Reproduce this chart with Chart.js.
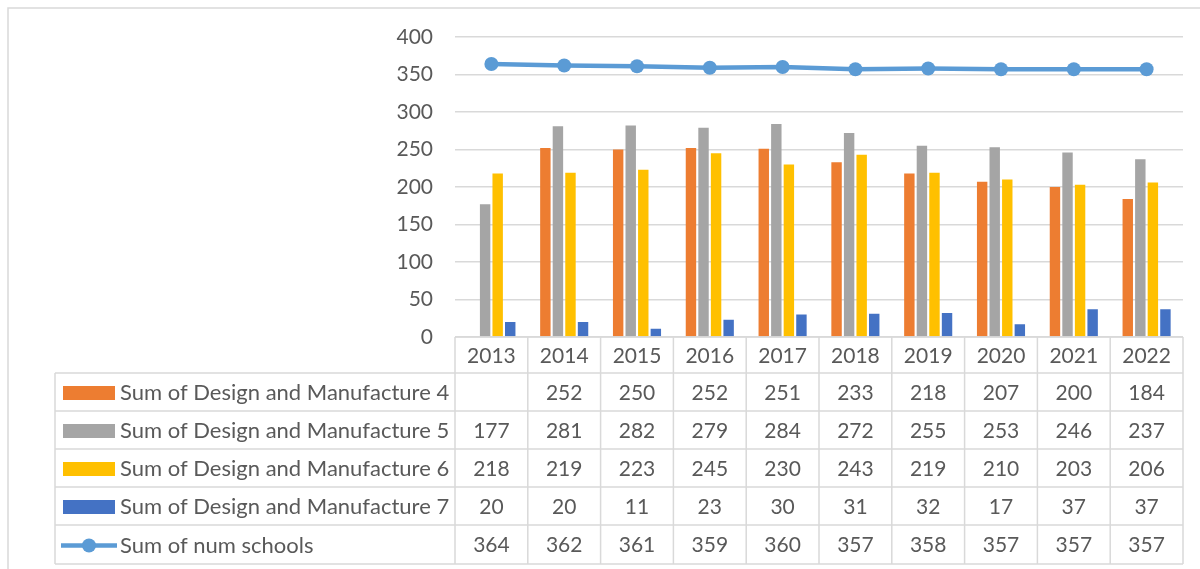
<!DOCTYPE html>
<html>
<head>
<meta charset="utf-8">
<script src="https://cdn.jsdelivr.net/npm/chart.js@4/dist/chart.umd.min.js"></script>
<style>
  html, body { margin: 0; padding: 0; background: #fff; }
  #wrap { width: 1200px; height: 569px; position: relative; }
</style>
</head>
<body>
<div id="wrap"><canvas id="chart" width="1200" height="569"></canvas></div>
<script>
// data
var years = ['2013', '2014', '2015', '2016', '2017', '2018', '2019', '2020', '2021', '2022']
var dm4 = [null, 252, 250, 252, 251, 233, 218, 207, 200, 184]
var dm5 = [177, 281, 282, 279, 284, 272, 255, 253, 246, 237]
var dm6 = [218, 219, 223, 245, 230, 243, 219, 210, 203, 206]
var dm7 = [20, 20, 11, 23, 30, 31, 32, 17, 37, 37]
var numSchools = [364, 362, 361, 359, 360, 357, 358, 357, 357, 357]
var yTicks = [0, 50, 100, 150, 200, 250, 300, 350, 400]

var textColor = '#595959'
var lineColor = '#d9d9d9'

Chart.defaults.font.family = 'Lato'

// draws the Excel style data table under the plot and the outer frame
var dataTable = {
  id: 'dataTable',
  afterDraw: function (chart) {
    var ctx = chart.ctx
    var area = chart.chartArea
    var xs = chart.scales.x
    var colW = (area.right - area.left) / years.length
    var rowTops = [337, 373, 411, 449, 487, 525, 564]
    var labelLeft = 55

    ctx.save()
    ctx.strokeStyle = lineColor
    ctx.lineWidth = 1.5

    // outer frame of the chart object
    ctx.beginPath()
    ctx.moveTo(8, 569)
    ctx.lineTo(8, 8)
    ctx.lineTo(1200, 8)
    ctx.stroke()

    // horizontal lines
    ctx.beginPath()
    ctx.moveTo(area.left, rowTops[0])
    ctx.lineTo(area.right, rowTops[0])
    for (var r = 1; r < rowTops.length; r++) {
      ctx.moveTo(labelLeft, rowTops[r])
      ctx.lineTo(area.right, rowTops[r])
    }
    // vertical lines
    for (var c = 0; c <= years.length; c++) {
      var x = area.left + c * colW
      ctx.moveTo(x, rowTops[0])
      ctx.lineTo(x, rowTops[6])
    }
    ctx.moveTo(labelLeft, rowTops[1])
    ctx.lineTo(labelLeft, rowTops[6])
    ctx.stroke()

    ctx.fillStyle = textColor
    ctx.font = '21px Lato'
    ctx.textAlign = 'center'
    ctx.textBaseline = 'middle'
    years.forEach(function (y, i) {
      ctx.fillText(y, xs.getPixelForValue(i), (rowTops[0] + rowTops[1]) / 2 + 1)
    })

    chart.data.datasets.forEach(function (ds, d) {
      var cy = (rowTops[d + 1] + rowTops[d + 2]) / 2 + 1
      ctx.font = '21px Lato'
      ds.data.forEach(function (v, i) {
        if (v !== null) ctx.fillText(String(v), xs.getPixelForValue(i), cy)
      })
      // legend key
      if (ds.type === 'line') {
        ctx.strokeStyle = ds.borderColor
        ctx.lineWidth = 4.5
        ctx.beginPath()
        ctx.moveTo(61, cy)
        ctx.lineTo(117, cy)
        ctx.stroke()
        ctx.fillStyle = ds.borderColor
        ctx.beginPath()
        ctx.arc(89, cy, 7, 0, Math.PI * 2)
        ctx.fill()
      } else {
        ctx.fillStyle = ds.backgroundColor
        ctx.fillRect(63, cy - 7, 52, 14)
      }
      ctx.fillStyle = textColor
      ctx.textAlign = 'left'
      ctx.font = '22px Lato'
      ctx.fillText(ds.label, 120, cy)
      ctx.textAlign = 'center'
    })
    ctx.restore()
  }
}

var ctx = document.getElementById('chart').getContext('2d')
var chart = new Chart(ctx, {
  type: 'bar',
  data: {
    labels: years,
    datasets: [
      { label: 'Sum of Design and Manufacture 4', data: dm4, backgroundColor: '#ED7D31', order: 1 },
      { label: 'Sum of Design and Manufacture 5', data: dm5, backgroundColor: '#A5A5A5', order: 1 },
      { label: 'Sum of Design and Manufacture 6', data: dm6, backgroundColor: '#FFC000', order: 1 },
      { label: 'Sum of Design and Manufacture 7', data: dm7, backgroundColor: '#4472C4', order: 1 },
      {
        type: 'line',
        label: 'Sum of num schools',
        data: numSchools,
        borderColor: '#5B9BD5',
        backgroundColor: '#5B9BD5',
        borderWidth: 4.5,
        pointRadius: 7,
        pointBackgroundColor: '#5B9BD5',
        pointBorderWidth: 0,
        tension: 0,
        order: 0
      }
    ]
  },
  options: {
    responsive: false,
    animation: false,
    datasets: {
      bar: { categoryPercentage: 0.69, barPercentage: 0.83 }
    },
    layout: { padding: { left: 0, right: 17, top: 37, bottom: 232 } },
    plugins: {
      legend: { display: false },
      title: { display: false },
      tooltip: { enabled: false }
    },
    scales: {
      x: { display: false },
      y: {
        min: 0,
        max: 400,
        afterBuildTicks: function (scale) {
          scale.ticks = yTicks.map(function (v) { return { value: v } })
        },
        afterFit: function (scale) { scale.width = 455 },
        border: { display: false },
        grid: { color: lineColor, lineWidth: 1.5, drawTicks: false },
        ticks: { color: textColor, font: { size: 21 }, padding: 22 }
      }
    }
  },
  plugins: [dataTable]
})
</script>
</body>
</html>
